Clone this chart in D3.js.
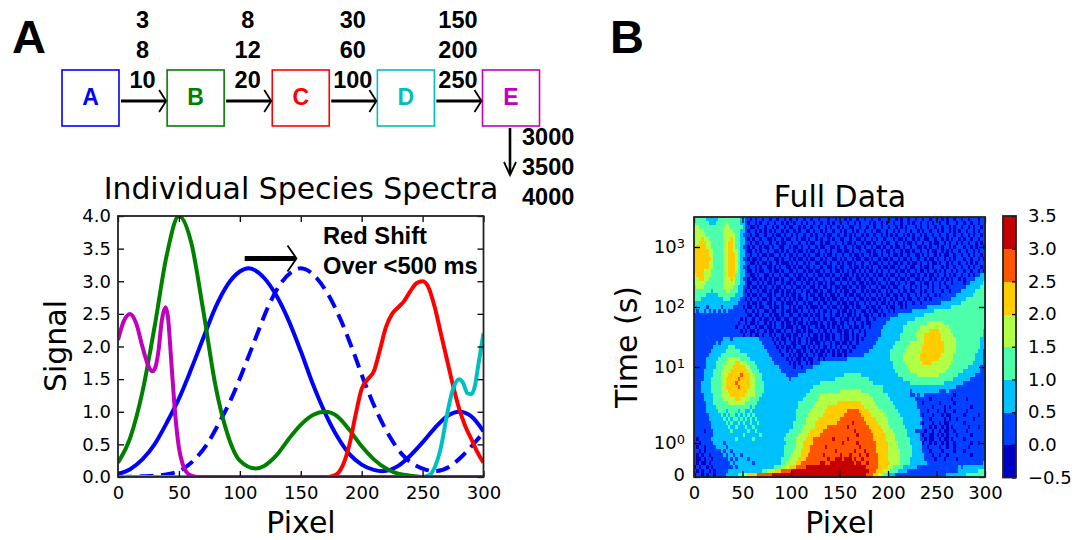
<!DOCTYPE html>
<html><head><meta charset="utf-8">
<script src="https://cdnjs.cloudflare.com/ajax/libs/d3/7.8.5/d3.min.js"></script>
<style>
html,body{margin:0;padding:0;background:#fff}
svg{display:block}
text{fill:#000}
.dj{font-family:"DejaVu Sans",sans-serif}
.lb{font-family:"Liberation Sans",Arial,sans-serif;font-weight:bold}
</style></head><body><svg id="c" width="1085" height="540"></svg>
<script>
// ---------- flow diagram ----------
const species = ["A","B","C","D","E"];
const speciesColors = ["#0000ff","#008000","#ff0000","#00bfbf","#bf00bf"];
const stepLabels = [["3","8","10"],["8","12","20"],["30","60","100"],["150","200","250"]];
const finalLabels = ["3000","3500","4000"];
// ---------- spectra (pixel, signal) ----------
const blueX = [0,10,20,30,40,50,60,70,80,90,100,107,110,120,130,140,150,160,170,180,190,200,210,217,230,240,250,260,270,280,290,300];
const blueY = [0.05,0.12,0.27,0.5,0.83,1.2,1.65,2.13,2.6,2.95,3.15,3.2,3.19,3.05,2.78,2.4,1.93,1.42,0.98,0.62,0.35,0.19,0.11,0.09,0.17,0.33,0.53,0.75,0.93,1.0,0.93,0.7];
const dashX = [0,20,30,43,53,63,73,83,93,103,113,123,133,143,150,153,163,173,183,193,203,213,223,233,243,253,260,273,283,293,300];
const dashY = [0,0.01,0.02,0.05,0.12,0.27,0.5,0.83,1.2,1.65,2.13,2.6,2.95,3.15,3.2,3.19,3.05,2.78,2.4,1.93,1.42,0.98,0.62,0.35,0.19,0.11,0.09,0.17,0.33,0.53,0.68];
const greenX = [0,10,20,30,40,50,60,70,80,90,100,113,120,130,140,150,160,170,180,190,200,210,220,230,240,250,300];
const greenY = [0.22,0.6,1.3,2.3,3.4,4.0,3.6,2.55,1.4,0.65,0.25,0.13,0.17,0.33,0.58,0.8,0.95,1.0,0.93,0.72,0.47,0.27,0.13,0.05,0.02,0,0];
const redX = [0,170,175,180,185,190,195,200,205,210,215,220,225,230,235,240,245,250,255,260,265,270,275,280,285,290,295,300];
const redY = [0,0,0.01,0.05,0.2,0.5,0.95,1.35,1.5,1.62,1.95,2.3,2.5,2.6,2.7,2.85,2.97,3.0,2.9,2.6,2.2,1.8,1.4,1.05,0.78,0.58,0.38,0.22];
const cyanX = [0,250,255,260,265,270,275,280,283,287,290,293,296,300];
const cyanY = [0,0,0.02,0.15,0.45,0.95,1.35,1.5,1.45,1.28,1.27,1.4,1.75,2.2];
const purpleX = [0,5,10,15,20,25,28,30,33,36,39,41,44,47,50,53,56,60,65,300];
const purpleY = [2.1,2.4,2.5,2.35,2.0,1.7,1.62,1.65,1.9,2.4,2.6,2.45,1.7,0.95,0.45,0.2,0.08,0.02,0,0];
const signalTicks = [0,0.5,1,1.5,2,2.5,3,3.5,4];
const pixelTicks = [0,50,100,150,200,250,300];
// ---------- full data: contour level per cell, rows top to bottom, columns 2.5 pixels wide ----------
const levelEdges = [-0.5,0,0.5,1,1.5,2,2.5,3,3.5];
const levelColors = ["#0000c4","#0040ff","#00c0ff","#4dffaa","#b1ff46","#ffcc00","#ff5500","#c40000"];
const timeTicks = [0,1,10,100,1000];
const timeLabels = [["0",""],["10","0"],["10","1"],["10","2"],["10","3"]];
const fullRows = [
"3333322222 3333333332 2110101101 1011011010 1101101101 1011101101 1101011011 0110110111 0110101101 1011011011 1101011011 0110111011",
"3333332223 3334333332 2101101011 0110110101 1011010110 1101101011 0110110101 1101011010 1101101101 0110110101 1011011101 1011011011",
"4433333333 3344433333 2110010110 1101011010 0110101101 1011010110 1011001101 1011011011 0110101011 1010110110 1101101011 0110101101",
"4444333333 3344443332 2101101010 1010110101 1010110010 1101011011 0101101011 0110100110 1101011010 1101011011 0101101010 1101101011",
"4444433333 3344444332 1110100110 1101001011 0101101101 0110100110 1101010110 1011011010 1010110101 0110101101 1011011011 0110101101",
"4445443333 3344454332 2101011011 0010110100 1101001011 0101101011 0011011001 0110101101 1101001011 0101100110 1101010110 1011011011",
"4455544333 3344554332 2110100101 1011010011 0110110100 1101001101 1010010110 1001011010 0110110100 1011011010 0110101101 0110110101",
"4555544333 3344554332 1101011010 0101100110 1001011011 0100110010 1101101001 0110100101 1010010110 1100101011 0101101011 1011010110",
"5555554433 3344554432 2100101011 0110010101 1010010100 1011010110 0100101101 1001011010 0101101001 0110110100 1101010110 1101101011",
"5555554433 3344555432 2110110100 1001101010 0101101011 0010100101 1011010010 1101001011 0100101101 1001010110 1010011011 0110101101",
"5555555433 3344555432 1101001011 0110010110 1010010100 1101011001 0101101001 0010110100 1011010010 1101101001 0110101011 1011011010",
"5555554433 3344555432 2110010100 1011010001 0101101011 0010010110 1010010110 1101001011 0100101101 0010110100 1011010110 1101010111",
"5555554433 3344555432 1101101011 0010101100 1010010010 1101100101 0011010010 1010110100 1001011010 0110100101 1101011011 0110101101",
"5555444333 3344555432 2100101001 1010010110 0101101001 0010110100 1010100101 0100101011 0110100101 1010010110 1010110101 1011011010",
"4555444333 3344555332 2110010110 0101101001 1010010110 1001001011 0100101010 1011010010 1001011010 0101101001 0110101011 0110101122",
"4455443333 3344454332 1101001010 1010010110 0100101001 0110110100 1001011001 0100101101 0110100101 1001011010 1101010110 1011112222",
"4444433333 3344444332 2100110101 0010110100 1011010010 1001010011 0110100100 1010010110 1001011010 0110100101 1010110111 1011222223",
"3444333333 3344443322 1101001010 1101001011 0100101100 1010010100 1001011010 0101101001 0100110110 1010110101 1011011111 1122222233",
"3333333233 3334433322 1010110100 1010010100 1011010010 0101100101 0100100110 1010010110 1011010010 0110101101 1101101111 2222223333",
"3333322222 3333333222 1101001011 0010110101 0010110100 1001010010 1101001001 0101101010 0100101101 1010110110 1011111122 2222233333",
"3332222222 2233322221 1010110100 1011001010 1010010110 0100101001 0010110100 1010010101 1010110100 1101101011 1111112222 2233333333",
"2222222222 2222222211 1101001011 0010110100 0101101001 1010010110 1001001011 0101101001 0101001011 0110111111 1122222222 3333333333",
"2222212222 2122221111 0100101001 1010010110 1010010100 0101101001 0100101001 1010010110 1001101011 1111112222 2222223333 3333333333",
"2122121212 1212111111 1011010110 0100110100 1001011010 1010010110 1001010110 0101001011 0101111111 2222222223 3333333333 3333333333",
"1111111111 1111111111 1100100101 1010010110 0110100101 0010110100 1010010101 0010110101 1111222222 2222233333 3333333333 3333333333",
"1111111111 1111111110 1011011010 0101001001 1001011010 1010010011 0100101001 1011011111 1222222222 2333333333 3333333333 3333333333",
"1111111111 1111111101 1010010110 1010110100 1010010100 0101101001 0010110110 1001111112 2222222233 3333334444 4443333333 3333333333",
"1111111111 1111111011 0101101001 0010110100 0101001011 0100101010 1011010010 1101111122 2222223333 3334444444 4444433333 3333333333",
"1111111111 1111111110 1010010110 1001001011 0100101001 1010010110 0100101101 0111111222 2222223333 3344444555 5444443333 3333333332",
"1111111111 1111111111 0110100101 1010110100 1001011010 0101001011 0100101011 0111111222 2222233333 3444455555 5544444333 3333333332",
"1111111111 1122212222 2222222111 1101010010 1010110100 0101001011 0100101010 1111112222 2222233333 3344455555 5544444433 3333333322",
"1111111112 1222222222 2222222211 1110101011 0010110101 0010110100 1001011011 1111122222 2223333334 4444455555 5554444433 3333333322",
"1111111122 2222333222 2222222221 1111010100 1011001010 1010010101 0110100111 1111222222 2233333344 4444555555 5554444433 3333333322",
"1111111222 2223333332 2222222222 1111101101 0100101101 0100101010 1001011111 1122222222 2333333444 4444555555 5554444433 3333333221",
"1111112222 2333333333 3322222222 2111110110 1010010110 1001011010 0101111111 2222222222 2333334444 4445555555 5544444333 3333332221",
"1111122222 3333444443 3332222222 2211111101 0100101001 1010111111 1112222222 2222222222 2333334444 4445555555 5444444333 3333332221",
"1111122223 3334444554 4433322222 2221111110 1010110101 1122222222 2222222222 2222222222 2233333444 4444555544 4444443333 3333322221",
"1111122223 3344445555 5443332222 2222211111 1011011112 2222222222 2222222222 2222222222 2233333344 4444444444 4444433333 3332222211",
"1111222233 3444455555 5544333222 2222221111 1111112222 2222222222 2222222222 2222222222 2223333334 4444444444 4444333333 3222222211",
"1111222233 3444555556 5554433322 2222222211 1112222222 2222222222 2233333332 2222222222 2222333333 3344444444 4333333332 2222221111",
"1111222333 3445555565 5554433322 2222222221 2222222222 2222222233 3333333333 3322222222 2222223333 3333333333 3333333222 2222111111",
"1112222333 3445555655 5554433332 2222222222 2222222222 2233333333 3333333333 3333222222 2222222223 3333333333 3332222222 2111111111",
"1112222333 3445555565 5554433332 2222222222 2222222223 3333333333 3333333333 3333333322 2222222222 2222222222 2222222211 1111111111",
"1112222333 3444555555 5544433332 2222222222 2222222233 3333333333 4444444443 3333333322 2222222221 2222222222 2111211111 1111111111",
"1111222233 3444455555 5444433322 2222222222 2222223333 3344444444 4444444444 4433333333 2222222221 1212211111 1111111011 1111111111",
"1111222233 3344444554 4443333222 2222222222 2222233333 3444444444 4444444444 4444333333 3222222222 2111111011 1111110111 1101111111",
"1111122233 3333444444 4333332222 2222222222 2223333333 4444444445 5555555554 4444433333 3322222222 2211011111 1011111011 1111111111",
"1111122223 3333333333 3332322222 2222222222 2223333334 4444455555 5555555555 4444443333 3332222222 2211111101 1110101111 1111011111",
"1111122222 3332333323 3223222222 2222222222 2233333344 4444555555 5556666655 5544444433 3333222222 2221110111 0110111011 1101111111",
"1111112222 2323233232 3232322222 2222222222 2233333444 4445555555 5566666665 5554444443 3333322222 2221011101 1101001111 1011111011",
"1111112222 2232323323 2323232222 2222222222 2233334444 4555555555 6666666666 5555544444 3333332222 2222111011 1110101101 1111101111",
"1111111222 2223232232 3223223222 2222222222 2333334444 5555555556 6666676666 6555554444 3333332222 2221011101 1010011111 1011111111",
"1111111222 2222322322 2322322222 2222222222 2333344444 5555566666 6667666666 6655555444 4333333222 2222111010 1101010111 1110111011",
"1111011122 2222232222 2232232222 2222222223 3333444455 5556666666 6666667666 6665555544 4433333322 2111101101 1010011011 1101111111",
"1111111122 2222222222 3222222322 2222222233 3334444555 5566666666 6666666766 6666555554 4443333322 2221011001 0101011101 1111011111",
"1011111222 2222222322 2222322222 2222222333 3344445556 6666666766 6667666666 6666555554 4443333332 2221101001 1010010111 1011111111",
"1101111122 2212222222 2222222222 2222222233 3344455556 6666666666 6766666766 6666655555 4444333332 2222011010 1101011011 1111011011",
"1011011112 2221222222 2222222222 2222222333 3344455566 6666766666 6666666676 6666655555 4444333333 2222110111 1011011011 1110111111",
"1101011111 1212212222 2222222222 2222222333 3444555566 6666666676 6666667666 7666655555 4444433333 2222111011 1101111011 1011111111",
"1010110111 1121221221 2222222222 2222222333 4444555666 6667666666 7666766676 6766665555 4444433333 2222211101 1011011111 1111011111",
"1001011011 1111212122 2212222222 2222223334 4445556666 6666676677 7677767667 6666665555 4444433332 2222211110 1110111101 1111111111",
"1010010111 1111121222 2222122222 2222223344 4455666666 6677667777 7777776776 6766665555 5444433332 2222221111 1111111111 1111111112",
"0101101011 1111112122 2222222222 2223334445 5566667777 7777777777 7777777777 7666665555 4433332222 2211111111 1111111112 1222222222",
"1010110101 1111222222 2222222233 4445556666 7777777777 7777777777 7777777777 7766655544 4333222211 1111111111 1111111112 2222222333",
"0110101101 1112222233 4455556666 6677777777 7777777777 7777777777 7777777777 7666554433 2221111111 1111111111 1111222222 2233333333"
];

const svg = d3.select("#c");
const fontDJ = 18;

// ---------- panel letters ----------
svg.append("text").attr("class","lb").attr("x",12).attr("y",53).attr("font-size",47).text("A");
svg.append("text").attr("class","lb").attr("x",610).attr("y",53).attr("font-size",47).text("B");

// ---------- flow diagram ----------
const flowX = d3.scalePoint().domain(species).range([90.5,511]);
const boxW = 57, boxTop = 70, boxH = 56;
const flow = svg.append("g");
species.forEach((s,i)=>{
  flow.append("rect").attr("x",flowX(s)-boxW/2).attr("y",boxTop).attr("width",boxW).attr("height",boxH)
    .attr("fill","none").attr("stroke",speciesColors[i]).attr("stroke-width",1.6);
  flow.append("text").attr("class","lb").attr("x",flowX(s)).attr("y",boxTop+35).attr("text-anchor","middle")
    .attr("font-size",23).style("fill",speciesColors[i]).text(s);
});
function arrowH(g,x0,x1,y,w,hx,hy,hw){
  g.append("line").attr("x1",x0).attr("x2",x1-1).attr("y1",y).attr("y2",y).attr("stroke","#000").attr("stroke-width",w);
  g.append("path").attr("d",`M${x1-hx},${y-hy}L${x1},${y}L${x1-hx},${y+hy}`).attr("fill","none").attr("stroke","#000").attr("stroke-width",hw);
}
stepLabels.forEach((labs,i)=>{
  const a = flowX(species[i])+boxW/2, b = flowX(species[i+1])-boxW/2;
  arrowH(flow,a+2,b-1,101,3,7,11,1.8);
  labs.forEach((t,j)=>{
    flow.append("text").attr("class","lb").attr("x",(a+b)/2-0.5).attr("y",28+30*j).attr("text-anchor","middle").attr("font-size",23.5).text(t);
  });
});
flow.append("line").attr("x1",510).attr("x2",510).attr("y1",128).attr("y2",174).attr("stroke","#000").attr("stroke-width",2.6);
flow.append("path").attr("d","M504,162L510,175L516,162").attr("fill","none").attr("stroke","#000").attr("stroke-width",1.8);
finalLabels.forEach((t,j)=>{
  flow.append("text").attr("class","lb").attr("x",522).attr("y",145+30*j).attr("font-size",23.5).text(t);
});

// ---------- panel A axes ----------
const xA = d3.scaleLinear().domain([0,300]).range([118,483.5]);
const yA = d3.scaleLinear().domain([0,4]).range([477,216]);
function styleAxis(g){
  g.selectAll(".domain").remove();
  g.selectAll("line").attr("stroke","#000").attr("stroke-width",1.3);
  g.selectAll("text").attr("class","dj").attr("font-size",fontDJ).style("font-family",'"DejaVu Sans",sans-serif');
}
svg.append("clipPath").attr("id","clipA").append("rect").attr("x",118).attr("y",216).attr("width",365.5).attr("height",261);
const lines = [
 {x:dashX,y:dashY,c:"#0000ff",dash:"14 7.5"},
 {x:blueX,y:blueY,c:"#0000ff"},
 {x:greenX,y:greenY,c:"#008000"},
 {x:redX,y:redY,c:"#ff0000"},
 {x:cyanX,y:cyanY,c:"#00bfbf"},
 {x:purpleX,y:purpleY,c:"#bf00bf"}
];
const lineGen = d3.line().x(d=>xA(d[0])).y(d=>yA(d[1])).curve(d3.curveMonotoneX);
const plotA = svg.append("g").attr("clip-path","url(#clipA)");
lines.forEach(l=>{
  plotA.append("path").attr("d",lineGen(l.x.map((v,i)=>[v,l.y[i]]))).attr("fill","none")
    .attr("stroke",l.c).attr("stroke-width",4).attr("stroke-dasharray",l.dash||null);
});
svg.append("g").attr("transform","translate(0,477)").call(d3.axisBottom(xA).tickValues(pixelTicks).tickFormat(d3.format("d")).tickSize(-6).tickPadding(9)).call(styleAxis);
svg.append("g").attr("transform","translate(0,216)").call(d3.axisTop(xA).tickValues(pixelTicks).tickFormat("").tickSize(-6)).call(styleAxis);
svg.append("g").attr("transform","translate(118,0)").call(d3.axisLeft(yA).tickValues(signalTicks).tickFormat(d3.format(".1f")).tickSize(-6).tickPadding(7)).call(styleAxis);
svg.append("g").attr("transform","translate(483.5,0)").call(d3.axisRight(yA).tickValues(signalTicks).tickFormat("").tickSize(-6)).call(styleAxis);
svg.append("rect").attr("x",118).attr("y",216).attr("width",365.5).attr("height",261).attr("fill","none").attr("stroke","#222").attr("stroke-width",1.8);
svg.append("text").attr("class","dj").attr("x",301).attr("y",199).attr("text-anchor","middle").attr("font-size",29.9).text("Individual Species Spectra");
svg.append("text").attr("class","dj").attr("x",301).attr("y",532.8).attr("text-anchor","middle").attr("font-size",30).text("Pixel");
svg.append("text").attr("class","dj").attr("transform","translate(66,346) rotate(-90)").attr("text-anchor","middle").attr("font-size",30).text("Signal");
svg.append("text").attr("class","lb").attr("x",323).attr("y",244).attr("font-size",23.7).text("Red Shift");
svg.append("text").attr("class","lb").attr("x",323).attr("y",274).attr("font-size",23.7).text("Over <500 ms");
arrowH(svg,xA(104),xA(146.5),yA(3.35),5,9,13,1.8);

// ---------- panel B heatmap ----------
const rows = fullRows.map(r=>r.replace(/ /g,""));
const xB = d3.scaleLinear().domain([0,300]).range([694,985]);
const yB = d3.scaleLinear().domain([0,1,10,100,1000]).range([477,443,367,307,247]);
const colBand = d3.scaleBand().domain(d3.range(120)).range([694,985]);
const rowBand = d3.scaleBand().domain(d3.range(rows.length)).range([217,477]);
const color = d3.scaleThreshold().domain(levelEdges.slice(1,-1)).range(levelColors);
const cells = [];
rows.forEach((r,j)=>{ for(let i=0;i<r.length;i++){ cells.push({i,j,v:levelEdges[+r[i]]+0.25}); } });
svg.append("g").attr("shape-rendering","crispEdges").selectAll("rect").data(cells).join("rect")
  .attr("x",d=>colBand(d.i)).attr("y",d=>rowBand(d.j)).attr("width",colBand.bandwidth()+0.5).attr("height",rowBand.bandwidth()+0.5)
  .attr("fill",d=>color(d.v));
svg.append("g").attr("transform","translate(0,477)").call(d3.axisBottom(xB).tickValues(pixelTicks).tickFormat(d3.format("d")).tickSize(-6).tickPadding(9)).call(styleAxis);
svg.append("g").attr("transform","translate(0,217)").call(d3.axisTop(xB).tickValues(pixelTicks).tickFormat("").tickSize(-6)).call(styleAxis);
const yAxisB = svg.append("g").attr("transform","translate(694,0)").call(d3.axisLeft(yB).tickValues(timeTicks).tickFormat("").tickSize(-6)).call(styleAxis);
yAxisB.selectAll(".tick").each(function(d,i){
  const lab = timeLabels[i], t = d3.select(this).select("text");
  t.attr("x",-9).attr("dy",i===0?"0.2em":"0.32em").text(null);
  t.append("tspan").text(lab[0]);
  if(lab[1]) t.append("tspan").attr("dy","-0.4em").attr("font-size",13).text(lab[1]);
});
svg.append("g").attr("transform","translate(985,0)").call(d3.axisRight(yB).tickValues(timeTicks).tickFormat("").tickSize(-6)).call(styleAxis);
svg.append("rect").attr("x",694).attr("y",217).attr("width",291).attr("height",260).attr("fill","none").attr("stroke","#222").attr("stroke-width",1.8);
svg.append("text").attr("class","dj").attr("x",840).attr("y",207).attr("text-anchor","middle").attr("font-size",30).text("Full Data");
svg.append("text").attr("class","dj").attr("x",840).attr("y",532.8).attr("text-anchor","middle").attr("font-size",30).text("Pixel");
svg.append("text").attr("class","dj").attr("transform","translate(637,347) rotate(-90)").attr("text-anchor","middle").attr("font-size",30).text("Time (s)");

// ---------- colour bar ----------
const yC = d3.scaleLinear().domain([-0.5,3.5]).range([477.5,216]);
svg.append("g").attr("shape-rendering","crispEdges").selectAll("rect").data(levelColors).join("rect")
  .attr("x",1003).attr("width",13).attr("y",(d,i)=>yC(levelEdges[i+1])).attr("height",(d,i)=>yC(levelEdges[i])-yC(levelEdges[i+1])+0.5).attr("fill",d=>d);
svg.append("g").attr("transform","translate(1016,0)").call(d3.axisRight(yC).tickValues(levelEdges).tickFormat(d=>d3.format(".1f")(d).replace("-","\u2212")).tickSize(-4).tickPadding(12)).call(styleAxis);
svg.append("rect").attr("x",1003).attr("y",216).attr("width",13).attr("height",261.5).attr("fill","none").attr("stroke","#222").attr("stroke-width",1.8);
</script></body></html>
